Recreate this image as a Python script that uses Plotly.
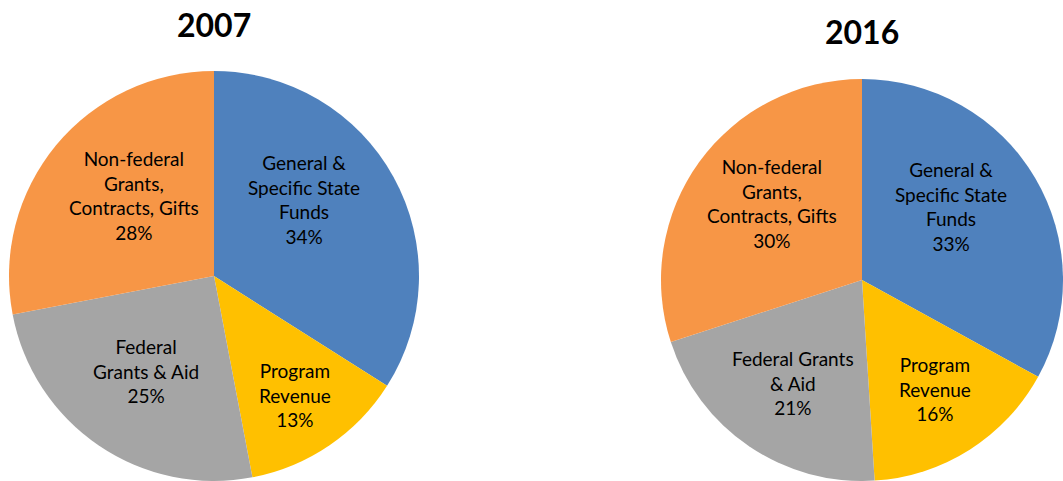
import math
import plotly.graph_objects as go

categories = ["General & Specific State Funds", "Program Revenue",
              "Federal Grants & Aid", "Non-federal Grants, Contracts, Gifts"]
label_2007 = ["General &<br>Specific State<br>Funds", "Program<br>Revenue",
              "Federal<br>Grants & Aid", "Non-federal<br>Grants,<br>Contracts, Gifts"]
label_2016 = ["General &<br>Specific State<br>Funds", "Program<br>Revenue",
              "Federal Grants<br>& Aid", "Non-federal<br>Grants,<br>Contracts, Gifts"]
values_2007 = [34, 13, 25, 28]
values_2016 = [33, 16, 21, 30]
years = ["2007", "2016"]
colors = ["#4F81BD", "#FFC000", "#A5A5A5", "#F79646"]

W, H = 1063, 481
FONT = "Lato, 'Open Sans', sans-serif"

domains = [
    dict(x=[9 / W, 419 / W], y=[0, 410 / H]),
    dict(x=[661 / W, 1.0], y=[0, 402 / H]),
]
label_frac = 0.6
# small pixel nudges (right, down) applied to each slice label, as in the original layout
label_nudge = [
    [(-18, -17), (12, 17), (1, -7), (15, -2)],
    [(-15, -12), (8, 7), (-1, 3), (8, -6)],
]

fig = go.Figure()
annotations = []
for k, (vals, labs, dom) in enumerate(zip([values_2007, values_2016], [label_2007, label_2016], domains)):
    fig.add_trace(go.Pie(
        labels=categories, values=vals, sort=False, direction="clockwise",
        rotation=0, marker=dict(colors=colors, line=dict(width=0)),
        textinfo="none", hoverinfo="label+percent", domain=dom, showlegend=False,
    ))
    # label positions derived from slice midpoint angles
    x0, x1 = dom["x"][0] * W, dom["x"][1] * W
    y0, y1 = dom["y"][0] * H, dom["y"][1] * H
    r = min(x1 - x0, y1 - y0) / 2
    cx, cy = (x0 + x1) / 2, (y0 + y1) / 2
    total = sum(vals)
    cum = 0
    for i, (v, lab) in enumerate(zip(vals, labs)):
        mid = (cum + v / 2) / total * 2 * math.pi
        cum += v
        nx, ny = label_nudge[k][i]
        px = cx + label_frac * r * math.sin(mid) + nx
        py = cy + label_frac * r * math.cos(mid) - ny
        annotations.append(dict(
            x=px / W, y=py / H, xref="paper", yref="paper", showarrow=False,
            xanchor="center", yanchor="middle",
            text=f"{lab}<br>{round(v / total * 100)}%",
            font=dict(family=FONT, size=19, color="#000000"), align="center",
        ))
    annotations.append(dict(
        x=cx / W, y=1 - (25 if k == 0 else 31) / H, xref="paper", yref="paper",
        showarrow=False, xanchor="center", yanchor="middle", text=f"<b>{years[k]}</b>",
        font=dict(family=FONT, size=32, color="#000000"),
    ))

fig.update_layout(
    width=W, height=H, margin=dict(l=0, r=0, t=0, b=0),
    paper_bgcolor="white", plot_bgcolor="white", annotations=annotations,
)
fig.write_html("out.html")
